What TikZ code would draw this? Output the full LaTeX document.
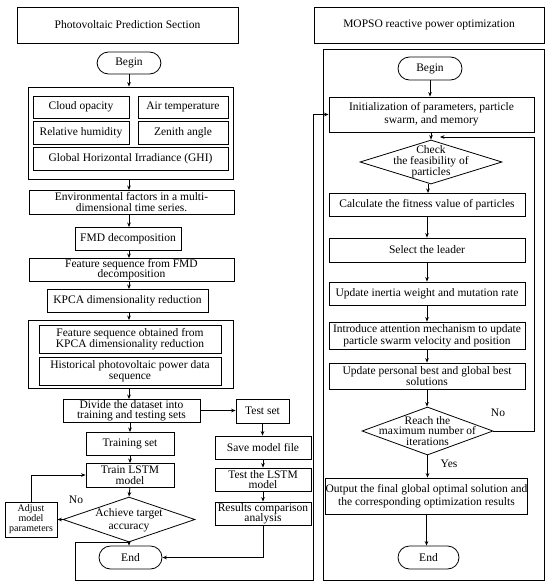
\documentclass[tikz,border=0pt]{standalone}
\usepackage{fontspec}
\setmainfont{Liberation Serif}
\usetikzlibrary{arrows.meta,shapes.geometric}
\begin{document}
\begin{tikzpicture}[x=1pt,y=-1pt,
  lw/.style={line width=0.8pt},
  box/.style={draw,lw,inner sep=0pt,align=center,font=\fontsize{11.5}{11}\selectfont},
  sz/.style n args={2}{minimum width=#1pt,minimum height=#2pt},
  ls/.style={font=\fontsize{11.5}{#1}\selectfont},
  term/.style={box,rounded corners=11.5pt},
  dia/.style={draw,lw,shape=diamond,inner sep=0pt},
  dtext/.style={inner sep=0pt,align=center,font=\fontsize{11.5}{10.2}\selectfont},
  lab/.style={inner sep=0pt,font=\fontsize{11.5}{11}\selectfont},
  arr/.style={lw,-{Stealth[length=4.5pt,width=3.6pt]}},
  conn/.style={lw}]
\useasboundingbox (0,0) rectangle (550,586);
% titles
\node[box,sz={221}{36}] (t1) at (127.5,25) {Photovoltaic Prediction Section};
\node[box,sz={230}{36}] (t2) at (429,25) {MOPSO reactive power optimization};
% right frame
\node[draw,lw,sz={221}{531},inner sep=0pt] (frameR) at (433.5,314.5) {};
% left column
\node[term,sz={64}{22}] (beginL) at (129,63) {Begin};
\node[draw,lw,sz={205}{92},inner sep=0pt] (group1) at (130.5,133) {};
\node[box,sz={96}{22}] (cloud) at (81,107) {Cloud opacity};
\node[box,sz={90}{22}] (air) at (183,107) {Air temperature};
\node[box,sz={96}{23}] (rel) at (81,132.5) {Relative humidity};
\node[box,sz={90}{23}] (zen) at (183,132.5) {Zenith angle};
\node[box,sz={195}{23}] (ghi) at (130.5,158.5) {Global Horizontal Irradiance (GHI)};
\node[box,ls=10.5,sz={205}{24}] (env) at (131.5,202) {Environmental factors in a multi-\\dimensional time series.};
\node[box,sz={106}{23}] (fmd) at (128,238.5) {FMD decomposition};
\node[box,ls=10.5,sz={205}{23}] (feat) at (131.5,269.5) {Feature sequence from FMD\\decomposition};
\node[box,sz={161}{23}] (kpca) at (127.5,300.5) {KPCA dimensionality reduction};
\node[draw,lw,sz={205}{68},inner sep=0pt] (group2) at (130.5,354) {};
\node[box,ls=10.5,sz={182}{28}] (fobt) at (130,339) {Feature sequence obtained from\\KPCA dimensionality reduction};
\node[box,ls=11,sz={182}{28}] (hist) at (130,371) {Historical photovoltaic power data\\sequence};
\node[box,ls=10.5,sz={137}{23}] (divide) at (131.5,410.5) {Divide the dataset into\\training and testing sets};
\node[box,sz={53}{24}] (testset) at (262.5,411) {Test set};
\node[box,ls=10.5,sz={88}{23}] (train) at (130,443.5) {Training set};
\node[box,ls=10.5,sz={88}{24}] (trainlstm) at (130,475) {Train LSTM\\model};
\node[dia,sz={132}{45}] (acc) at (129,519.5) {};
\node[dtext,font=\fontsize{11.5}{13}\selectfont] (accT) at (129,520) {Achieve target\\accuracy};
\node[box,font=\fontsize{10}{10}\selectfont,sz={52}{35}] (adjust) at (31,519.5) {Adjust\\model\\parameters};
\node[term,sz={63}{23}] (endL) at (130.5,557.5) {End};
\node[box,sz={96}{23}] (save) at (263,447.5) {Save model file};
\node[box,ls=10.5,sz={96}{23}] (testlstm) at (263,479.5) {Test the LSTM\\model};
\node[box,ls=10.5,sz={96}{23}] (results) at (263,513.5) {Results comparison\\analysis};
\node[lab] (noL) at (76,500) {No};
% right column
\node[term,sz={64}{23}] (beginR) at (430,68.5) {Begin};
\node[box,ls=13,sz={205}{35}] (init) at (431.5,114.5) {Initialization of parameters, particle\\swarm, and memory};
\node[dia,sz={142}{44}] (check) at (431,162) {};
\node[dtext] (checkT) at (431,162) {Check\\the feasibility of\\particles};
\node[box,sz={196}{23}] (calc) at (427,204.5) {Calculate the fitness value of particles};
\node[box,sz={196}{24}] (select) at (427,250) {Select the leader};
\node[box,sz={196}{23}] (inertia) at (427,293.5) {Update inertia weight and mutation rate};
\node[box,ls=12,sz={196}{27}] (attn) at (427,335.5) {Introduce attention mechanism to update\\particle swarm velocity and position};
\node[box,ls=11,sz={196}{26}] (pbest) at (427,376) {Update personal best and global best\\solutions};
\node[dia,sz={131}{48}] (reach) at (427.5,431) {};
\node[dtext] (reachT) at (427.5,431) {Reach the\\maximum number of\\iterations};
\node[box,ls=12.5,sz={201}{36}] (output) at (426.5,496) {Output the final global optimal solution and\\the corresponding optimization results};
\node[term,sz={61}{23}] (endR) at (428.5,557.5) {End};
\node[lab] (noR) at (498,413) {No};
\node[lab] (yes) at (449,464) {Yes};
% left arrows
\draw[arr] (beginL.south) -- (beginL.south |- group1.north);
\draw[arr] (129,179) -- (129,190);
\draw[arr] (129,214) -- (129,227);
\draw[arr] (129,250) -- (129,258);
\draw[arr] (129,281) -- (129,289);
\draw[arr] (129,312) -- (129,320);
\draw[arr] (129,388) -- (129,399);
\draw[arr] (130,422) -- (130,432);
\draw[arr] (130,455) -- (130,463);
\draw[arr] (130,487) -- (acc.north);
\draw[arr] (acc.south) -- (acc.south |- endL.north);
\draw[arr] (divide.east) -- (divide.east -| testset.west);
\draw[arr] (testset.south) -- (testset.south |- save.north);
\draw[arr] (save.south) -- (testlstm.north);
\draw[arr] (testlstm.south) -- (results.north);
\draw[arr] (results.south) |- (endL.east);
\draw[arr] (acc.west) -- (adjust.east);
\draw[arr] (adjust.north) |- (trainlstm.west);
\coordinate (c1) at (75,580);
\coordinate (c2) at (313,580);
\draw[arr] (acc.south) -| (c1) -- (c2) |- (init.west);
% right arrows
\draw[arr] (beginR.south) -- (beginR.south |- init.north);
\draw[arr] (431,132) -- (check.north);
\draw[arr] (428,184) -- (428,193);
\draw[arr] (calc.south) -- (select.north);
\draw[arr] (select.south) -- (inertia.north);
\draw[arr] (inertia.south) -- (attn.north);
\draw[arr] (attn.south) -- (pbest.north);
\draw[arr] (pbest.south) -- (pbest.south |- reach.north);
\draw[arr] (reach.south) -- (reach.south |- output.north);
\draw[arr] (output.south) -- (output.south |- endR.north);
\coordinate (c3) at (534,431);
\coordinate (loopend) at (440,137);
\draw[arr] (reach.east) -- (c3) |- (loopend);
\end{tikzpicture}
\end{document}
